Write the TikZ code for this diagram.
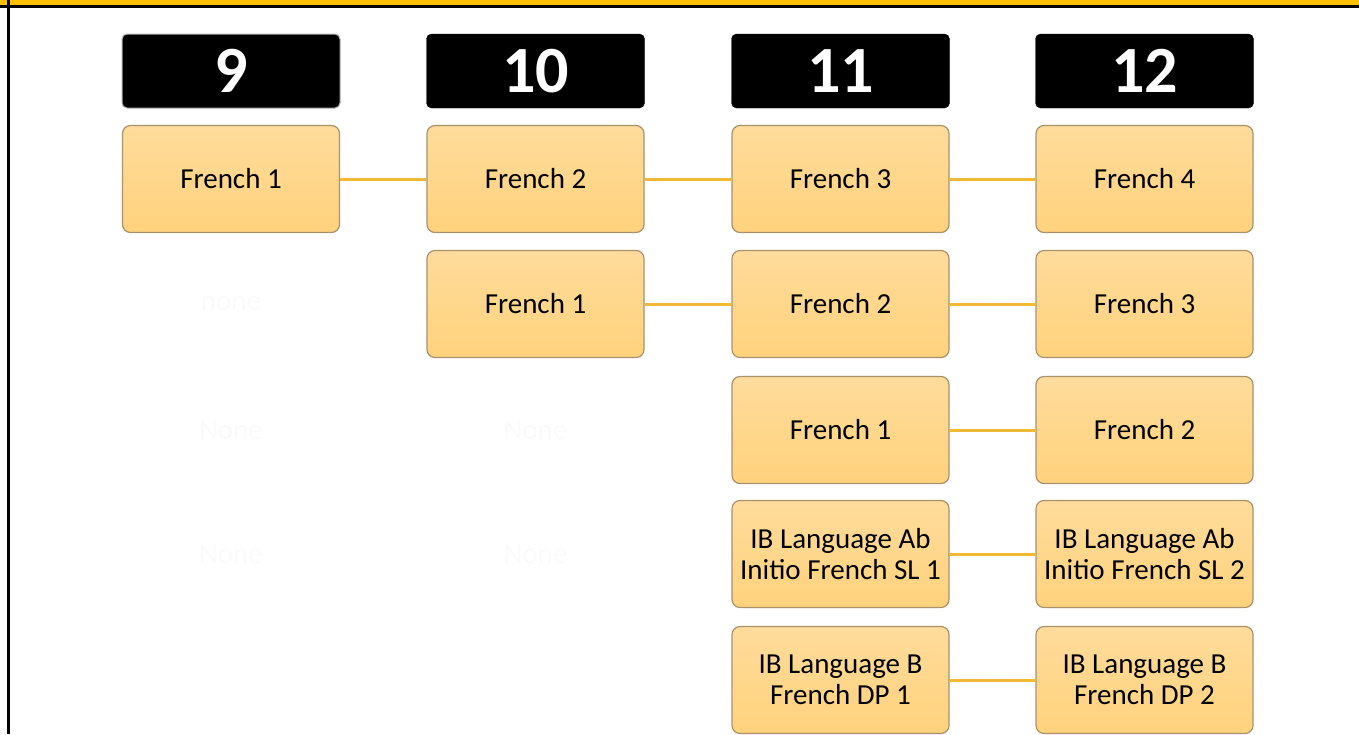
\documentclass[tikz,border=0pt]{standalone}
\usepackage{fontspec}
\setmainfont{Carlito}
\begin{document}
\begin{tikzpicture}[x=1pt,y=-1pt,
  course/.style={draw=boxborder,line width=1.2pt,rounded corners=8pt,top color=boxtop,bottom color=boxbot,
    minimum width=217pt,minimum height=107pt,align=center,text=black,
    font=\fontsize{29}{31}\selectfont},
  grade/.style={fill=black,draw=black,rounded corners=5pt,minimum width=218pt,minimum height=74pt,
    text=white,font=\fontsize{66}{70}\selectfont\bfseries},
  ghost/.style={text=white!98!black,font=\fontsize{29}{31}\selectfont},
  link/.style={draw=linkgold,line width=3pt}]
\definecolor{boxtop}{HTML}{FFDC9C}
\definecolor{boxbot}{HTML}{FFD27C}
\definecolor{boxborder}{HTML}{A8926A}
\definecolor{linkgold}{HTML}{F0BA36}
\definecolor{band}{HTML}{FFC000}
\useasboundingbox (0,0) rectangle (1359,734);
\fill[band] (0,0) rectangle (1359,5);
\fill[black] (0,5) rectangle (1359,7.5);
\fill[black] (7,0) rectangle (10,734);
% headers
\node[grade,draw=gray!60,line width=1pt] (g9) at (231,71) {9};
\node[grade] (g10) at (535.5,71) {10};
\node[grade] (g11) at (840.5,71) {11};
\node[grade] (g12) at (1144.5,71) {12};
% row 1
\node[course] (a1) at (231,179) {French 1};
\node[course] (a2) at (535.5,179) {French 2};
\node[course] (a3) at (840.5,179) {French 3};
\node[course] (a4) at (1144.5,179) {French 4};
% row 2
\node[ghost] (n1) at (231,304) {none};
\node[course] (b2) at (535.5,304) {French 1};
\node[course] (b3) at (840.5,304) {French 2};
\node[course] (b4) at (1144.5,304) {French 3};
% row 3
\node[ghost] (n2) at (231,430) {None};
\node[ghost] (n3) at (535.5,430) {None};
\node[course] (c3) at (840.5,430) {French 1};
\node[course] (c4) at (1144.5,430) {French 2};
% row 4
\node[ghost] (n4) at (231,554) {None};
\node[ghost] (n5) at (535.5,554) {None};
\node[course] (d3) at (840.5,554) {IB Language Ab\\Initio French SL 1};
\node[course] (d4) at (1144.5,554) {IB Language Ab\\Initio French SL 2};
% row 5
\node[course] (e3) at (840.5,680) {IB Language B\\French DP 1};
\node[course] (e4) at (1144.5,680) {IB Language B\\French DP 2};
% links
\draw[link] (a1) -- (a2);
\draw[link] (a2) -- (a3);
\draw[link] (a3) -- (a4);
\draw[link] (b2) -- (b3);
\draw[link] (b3) -- (b4);
\draw[link] (c3) -- (c4);
\draw[link] (d3) -- (d4);
\draw[link] (e3) -- (e4);
\end{tikzpicture}
\end{document}
